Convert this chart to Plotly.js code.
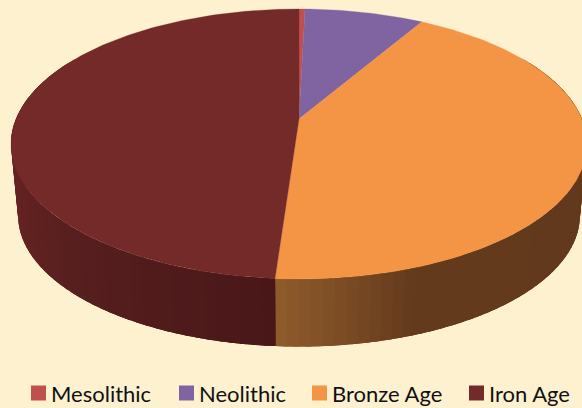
<!DOCTYPE html>
<html><head><meta charset="utf-8">
<script src="https://cdn.plot.ly/plotly-3.0.1.min.js"></script>
<style>html,body{margin:0;padding:0;background:#FEF1D0;overflow:hidden}</style>
</head><body><div id="chart" style="width:582px;height:408px"></div>
<script>
const categories = ["Mesolithic", "Neolithic", "Bronze Age", "Iron Age"];
const values = [0.4, 8.0, 42.7, 48.9];
const topColors = ["#C0504D", "#8064A2", "#F39545", "#752A2A"];
// side-wall shading stops: [clockwise angle, colour]
const bronzeSide = [[60,[97,56,27]],[160,[99,58,28]],[172,[122,75,36]],[184,[143,91,43]]];
const ironSide = [[184,[73,23,24]],[225,[88,31,31]],[258,[104,36,35]],[300,[105,36,35]]];

// projection of the tilted disc
const K = -0.185, CX = 299;
const TOP = {y:119, a:130.4, b:283};
const BOT = {y:191.2, a:126.6, b:276};
function proj(deg, d){
  const t = deg*Math.PI/180, X = Math.sin(t), Y = -Math.cos(t), w = 1+K*Y;
  return [CX + d.b*X/w, d.y + d.a*Y/w];
}
function mix(stops, a){
  for(let i=0;i<stops.length-1;i++){
    const [a0,c0]=stops[i],[a1,c1]=stops[i+1];
    if(a<=a1){const f=Math.max(0,(a-a0)/(a1-a0));
      return "rgb("+c0.map((c,j)=>Math.round(c+(c1[j]-c)*f)).join(",")+")";}
  }
  return "rgb("+stops[stops.length-1][1].join(",")+")";
}
const total = values.reduce((s,v)=>s+v,0);
let cum=0;
const bounds=[0].concat(values.map(v=>{cum+=v;return cum/total*360;}));
const data=[];
function wall(a,e,col){
  const pts=[];
  for(let s=0;s<=4;s++)pts.push(proj(a+(e-a)*s/4,TOP));
  for(let s=4;s>=0;s--)pts.push(proj(a+(e-a)*s/4,BOT));
  pts.push(pts[0]);
  data.push({type:"scatter",mode:"none",x:pts.map(q=>q[0]),y:pts.map(q=>q[1]),fill:"toself",fillcolor:col,
    showlegend:false,hoverinfo:"skip"});
}
// side wall, visible front part only; each strip overlaps the next one painted over it
const split=bounds[3];
for(let a=60;a<split;a+=2){
  wall(a,Math.min(a+5,split),mix(bronzeSide,a+1));
}
for(let a=300;a>split;a-=2){
  wall(Math.max(a-5,split),a,mix(ironSide,a-1));
}
// top faces
categories.forEach((c,i)=>{
  const xs=[CX],ys=[TOP.y];
  const a0=bounds[i],a1=bounds[i+1],n=Math.max(2,Math.ceil(a1-a0));
  for(let j=0;j<=n;j++){const q=proj(a0+(a1-a0)*j/n,TOP);xs.push(q[0]);ys.push(q[1]);}
  xs.push(CX);ys.push(TOP.y);
  data.push({type:"scatter",mode:"lines",x:xs,y:ys,fill:"toself",fillcolor:topColors[i],
    line:{color:topColors[i],width:0.3},showlegend:false,name:c,hoverinfo:"name"});
});
// legend entries
categories.forEach((c,i)=>{
  data.push({type:"scatter",mode:"markers",x:[-100],y:[-100],name:c,
    marker:{symbol:"square",size:15,color:topColors[i]},showlegend:true});
});
const layout={
  width:582,height:408,margin:{l:0,r:0,t:0,b:0},
  paper_bgcolor:"#FEF1D0",plot_bgcolor:"#FEF1D0",
  xaxis:{range:[0,582],visible:false,fixedrange:true},
  yaxis:{range:[408,0],visible:false,fixedrange:true},
  showlegend:true,
  legend:{orientation:"h",x:0.04,xanchor:"left",y:0,yanchor:"bottom",bgcolor:"rgba(0,0,0,0)",
    font:{family:"Lato",size:22,color:"#111"},itemclick:false,itemdoubleclick:false,traceorder:"normal"}
};
const legendTextLeft=[51,199,332,489], legendSwatchCenter=[38.5,186.5,319.5,476.5], legendMidY=393;
Plotly.newPlot("chart",data,layout,{displayModeBar:false}).then(()=>{
  const sb=document.querySelector(".legend .scrollbox");
  if(sb)sb.removeAttribute("clip-path");
  const lg=document.querySelector(".legend");
  if(lg)lg.removeAttribute("clip-path");
  document.querySelectorAll(".legend .traces").forEach((g,i)=>{
    const m=/translate\(([-\d.]+)[, ]+([-\d.]+)\)/.exec(g.getAttribute("transform")||"");
    const tx=m?+m[1]:0, ty=m?+m[2]:0;
    const t=g.querySelector("text.legendtext"), p=g.querySelector(".legendpoints");
    const r=p.getBoundingClientRect();
    const dy=legendMidY-(r.top+r.height/2);
    const dx=legendTextLeft[i]-t.getBoundingClientRect().left;
    g.setAttribute("transform","translate("+(tx+dx)+","+(ty+dy)+")");
    const r2=p.getBoundingClientRect();
    p.setAttribute("transform","translate("+(legendSwatchCenter[i]-(r2.left+r2.width/2))+",0)");
    const tog=g.querySelector(".legendtoggle"); if(tog)tog.style.display="none";
  });
});
</script></body></html>
